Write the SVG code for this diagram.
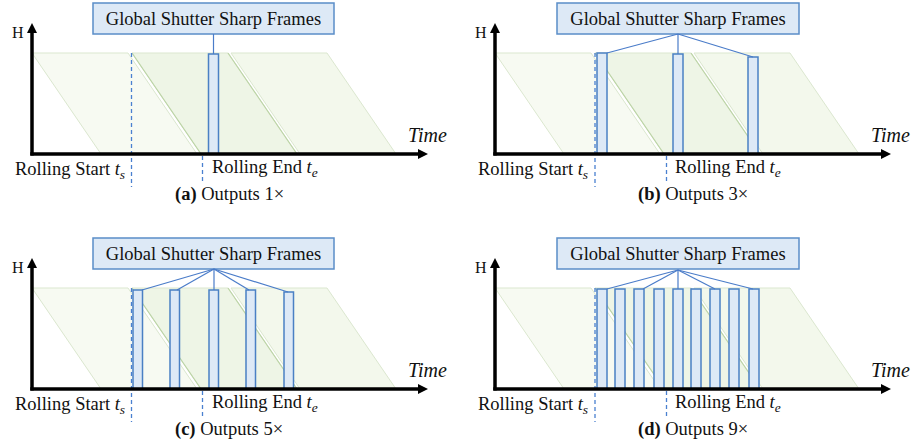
<svg xmlns="http://www.w3.org/2000/svg" width="914" height="443" viewBox="0 0 914 443" font-family="'Liberation Serif', 'DejaVu Serif', serif">
<style>
.ax{stroke:#000;stroke-width:3.5;fill:none}
.p1{fill:#f7faf2;stroke:#dbe7cf;stroke-width:1}
.p2{fill:#eef5e6;stroke:#dbe7cf;stroke-width:1}
.p3{fill:#f3f8ec;stroke:#dbe7cf;stroke-width:1}
.edge{stroke:#bcd4a6;stroke-width:1.2;fill:none}
.box{fill:#dde9f6;stroke:#5a8dc8;stroke-width:1.5}
.bar{fill:#dde9f6;stroke:#4a80c4;stroke-width:1.5}
.con{stroke:#4a7cc9;stroke-width:1.2;fill:none}
.dash{stroke:#4a80d0;stroke-width:1.3;stroke-dasharray:4 3;fill:none}
.t{font-family:'Liberation Serif','DejaVu Serif',serif;fill:#111}
.lbl{font-size:18.5px}
.ttl{font-size:18.5px}
.it{font-style:italic}
.sub{font-style:italic;font-size:13.5px}
.cap{font-size:18.5px}
</style>
<defs>
<marker id="arr" viewBox="0 0 10 10" markerUnits="userSpaceOnUse" markerWidth="10" markerHeight="10" refX="0" refY="5" orient="auto">
<path d="M0,0 L10,5 L0,10 z" fill="#000"/>
</marker>
<g id="bg">
<polygon class="p1" points="32,53 128,53 197,154 101,154"/>
<polygon class="p2" points="132,53 228,53 297,154 201,154"/>
<polygon class="p3" points="231,53 327,53 396,154 300,154"/>
<line class="edge" x1="132" y1="53" x2="201" y2="154"/>
<line class="edge" x1="228" y1="53" x2="297" y2="154"/>
</g>
<g id="labels">
<text class="t" x="12" y="38" font-size="16">H</text>
<text class="t it" x="408" y="142" font-size="20">Time</text>
<text class="t lbl" x="15" y="175">Rolling Start <tspan class="it">t</tspan><tspan class="sub" dy="4">s</tspan></text>
<text class="t lbl" x="212" y="173">Rolling End <tspan class="it">t</tspan><tspan class="sub" dy="4">e</tspan></text>
</g>
<g id="axes">
<line class="ax" x1="32" y1="155.5" x2="32" y2="33" marker-end="url(#arr)"/>
<line class="ax" x1="30.3" y1="154" x2="418" y2="154" marker-end="url(#arr)"/>
</g>
</defs>

<!-- Panel (a) -->
<g id="panel-a">
<use href="#bg"/>
<line class="dash" x1="131.5" y1="53" x2="131.5" y2="187"/>
<line class="dash" x1="202.5" y1="156" x2="202.5" y2="183"/>
<g id="a-bar1"><rect class="bar" x="208.5" y="54" width="10" height="100"/></g>
<use href="#axes"/>
<use href="#labels"/>
<g id="a-box"><rect class="box" x="93" y="3" width="241" height="31"/><text class="t ttl" x="213.5" y="25" text-anchor="middle">Global Shutter Sharp Frames</text></g>
<g id="a-connectors">
<line class="con" x1="213.5" y1="34" x2="213.5" y2="54"/>
</g>
<text class="t cap" x="175" y="200"><tspan font-weight="bold">(a)</tspan> Outputs 1×</text>
</g>

<!-- Panel (b) -->
<g id="panel-b" transform="translate(463,0)">
<use href="#bg"/>
<g id="b-bar1"><rect class="bar" x="134" y="53" width="10" height="101"/></g>
<g id="b-bar2"><rect class="bar" x="210" y="54" width="10" height="100"/></g>
<g id="b-bar3"><rect class="bar" x="285" y="57" width="10" height="97"/></g>
<line class="dash" x1="132" y1="53" x2="132" y2="187"/>
<line class="dash" x1="203.5" y1="156" x2="203.5" y2="183"/>
<use href="#axes"/>
<use href="#labels"/>
<g id="b-box"><rect class="box" x="94" y="3" width="242" height="31"/><text class="t ttl" x="215" y="25" text-anchor="middle">Global Shutter Sharp Frames</text></g>
<g id="b-connectors">
<line class="con" x1="215" y1="34" x2="144" y2="53"/>
<line class="con" x1="215" y1="34" x2="215" y2="54"/>
<line class="con" x1="215" y1="34" x2="290" y2="57"/>
</g>
<text class="t cap" x="175" y="200"><tspan font-weight="bold">(b)</tspan> Outputs 3×</text>
</g>

<!-- Panel (c) -->
<g id="panel-c" transform="translate(0,235)">
<use href="#bg"/>
<g id="c-bar1"><rect class="bar" x="133" y="55" width="9.5" height="99"/></g>
<g id="c-bar2"><rect class="bar" x="170" y="55" width="9.5" height="99"/></g>
<g id="c-bar3"><rect class="bar" x="209" y="55" width="9.5" height="99"/></g>
<g id="c-bar4"><rect class="bar" x="246" y="55" width="9.5" height="99"/></g>
<g id="c-bar5"><rect class="bar" x="284" y="57" width="9.5" height="97"/></g>
<line class="dash" x1="131.5" y1="53" x2="131.5" y2="187"/>
<line class="dash" x1="202.5" y1="156" x2="202.5" y2="183"/>
<use href="#axes"/>
<use href="#labels"/>
<g id="c-box"><rect class="box" x="93" y="3" width="241" height="31"/><text class="t ttl" x="213.5" y="25" text-anchor="middle">Global Shutter Sharp Frames</text></g>
<g id="c-connectors">
<line class="con" x1="214" y1="34" x2="142" y2="55"/>
<line class="con" x1="214" y1="34" x2="177" y2="55"/>
<line class="con" x1="214" y1="34" x2="214" y2="55"/>
<line class="con" x1="214" y1="34" x2="249" y2="55"/>
<line class="con" x1="214" y1="34" x2="288" y2="57"/>
</g>
<text class="t cap" x="175" y="200"><tspan font-weight="bold">(c)</tspan> Outputs 5×</text>
</g>

<!-- Panel (d) -->
<g id="panel-d" transform="translate(463,235)">
<use href="#bg"/>
<g id="d-bar1"><rect class="bar" x="134" y="54" width="10" height="100"/></g>
<g id="d-bar2"><rect class="bar" x="152" y="54" width="10" height="100"/></g>
<g id="d-bar3"><rect class="bar" x="171" y="54" width="10" height="100"/></g>
<g id="d-bar4"><rect class="bar" x="191" y="54" width="10" height="100"/></g>
<g id="d-bar5"><rect class="bar" x="210" y="54" width="10" height="100"/></g>
<g id="d-bar6"><rect class="bar" x="228" y="54" width="10" height="100"/></g>
<g id="d-bar7"><rect class="bar" x="247" y="54" width="10" height="100"/></g>
<g id="d-bar8"><rect class="bar" x="266" y="54" width="10" height="100"/></g>
<g id="d-bar9"><rect class="bar" x="286" y="54" width="10" height="100"/></g>
<line class="dash" x1="132" y1="53" x2="132" y2="187"/>
<line class="dash" x1="203.5" y1="156" x2="203.5" y2="183"/>
<use href="#axes"/>
<use href="#labels"/>
<g id="d-box"><rect class="box" x="94" y="3" width="242" height="31"/><text class="t ttl" x="215" y="25" text-anchor="middle">Global Shutter Sharp Frames</text></g>
<g id="d-connectors">
<line class="con" x1="215" y1="35" x2="144" y2="54"/>
<line class="con" x1="215" y1="35" x2="180" y2="54"/>
<line class="con" x1="215" y1="35" x2="215" y2="54"/>
<line class="con" x1="215" y1="35" x2="252" y2="54"/>
<line class="con" x1="215" y1="35" x2="290" y2="54"/>
</g>
<text class="t cap" x="175" y="200"><tspan font-weight="bold">(d)</tspan> Outputs 9×</text>
</g>
</svg>
